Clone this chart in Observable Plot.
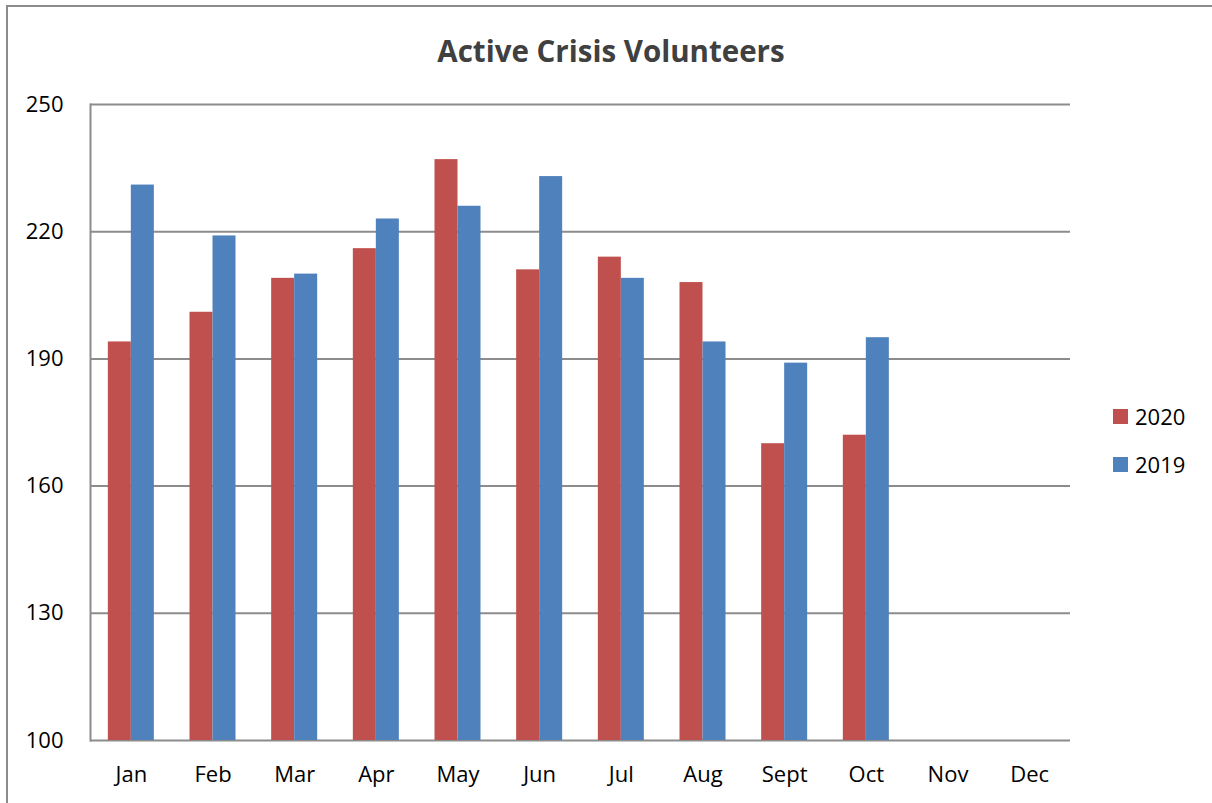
<!DOCTYPE html>
<html>
<head>
<meta charset="utf-8">
<script src="https://cdn.jsdelivr.net/npm/d3@7"></script>
<script src="https://cdn.jsdelivr.net/npm/@observablehq/plot@0.6"></script>
<style>
  html, body { margin: 0; padding: 0; background: #fff; }
  #wrap { position: relative; width: 1212px; height: 803px; overflow: hidden; font-family: "Open Sans", "Noto Sans", sans-serif; }
  #wrap svg { position: absolute; left: 0; top: 0; }
  #border { position: absolute; left: 6px; top: 5px; width: 1300px; height: 900px; border-left: 2px solid #8c8c8c; border-top: 2px solid #8c8c8c; box-sizing: border-box; }
  #title { position: absolute; left: 10px; width: 1202px; top: 31px; text-align: center; font-weight: bold; font-size: 29.5px; color: #404040; line-height: 40px; }
  .leg { position: absolute; left: 1113px; font-size: 22px; color: #000; line-height: 24px; display: flex; align-items: center; }
  .leg span.sw { display: inline-block; width: 15px; height: 15px; margin-right: 7px; }
</style>
</head>
<body>
<div id="wrap">
  <div id="border"></div>
</div>
<script>
const title = "Active Crisis Volunteers";
const months = ["Jan","Feb","Mar","Apr","May","Jun","Jul","Aug","Sept","Oct","Nov","Dec"];
const series = ["2020","2019"];
const colors = ["#C0504D","#4F81BD"];
const values2020 = [194, 201, 209, 216, 237, 211, 214, 208, 170, 172];
const values2019 = [231, 219, 210, 223, 226, 233, 209, 194, 189, 195];
const yTicks = [100, 130, 160, 190, 220, 250];

const rows = [];
values2020.forEach((v, i) => rows.push({month: months[i], year: "2020", value: v}));
values2019.forEach((v, i) => rows.push({month: months[i], year: "2019", value: v}));

const W = 1212, H = 803;
const margins = {marginLeft: 90, marginRight: 142, marginTop: 104, marginBottom: 63};
const yDomain = [yTicks[0], yTicks[yTicks.length - 1]];

const back = Plot.plot({
  width: W, height: H, ...margins,
  style: {fontFamily: "'Open Sans', 'Noto Sans', sans-serif", fontSize: "22px", color: "#000", background: "transparent"},
  x: {type: "band", domain: months, padding: 0, round: false, tickSize: 0, tickPadding: 26, label: null},
  y: {domain: yDomain, ticks: yTicks, tickSize: 0, tickPadding: 27, label: null, tickFormat: d => String(d)},
  marks: [
    Plot.ruleY(yTicks, {stroke: "#8c8c8c", strokeWidth: 2}),
    Plot.frame({anchor: "left", stroke: "#8c8c8c", strokeWidth: 2})
  ]
});

const front = Plot.plot({
  width: W, height: H, ...margins,
  style: {background: "transparent"},
  fx: {domain: months, padding: 0, round: false, axis: null, label: null},
  x: {domain: series, paddingInner: 0, paddingOuter: 0.775, round: false, axis: null},
  y: {domain: yDomain, axis: null},
  color: {domain: series, range: colors},
  marks: [
    Plot.barY(rows, {fx: "month", x: "year", y: "value", fill: "year", clip: true})
  ]
});

const wrap = document.getElementById("wrap");
wrap.appendChild(back);
wrap.appendChild(front);

const t = document.createElement("div");
t.id = "title";
t.textContent = title;
wrap.appendChild(t);

series.forEach((s, i) => {
  const d = document.createElement("div");
  d.className = "leg";
  d.style.top = (404 + i * 48) + "px";
  d.innerHTML = `<span class="sw" style="background:${colors[i]}"></span><span>${s}</span>`;
  wrap.appendChild(d);
});
</script>
</body>
</html>
